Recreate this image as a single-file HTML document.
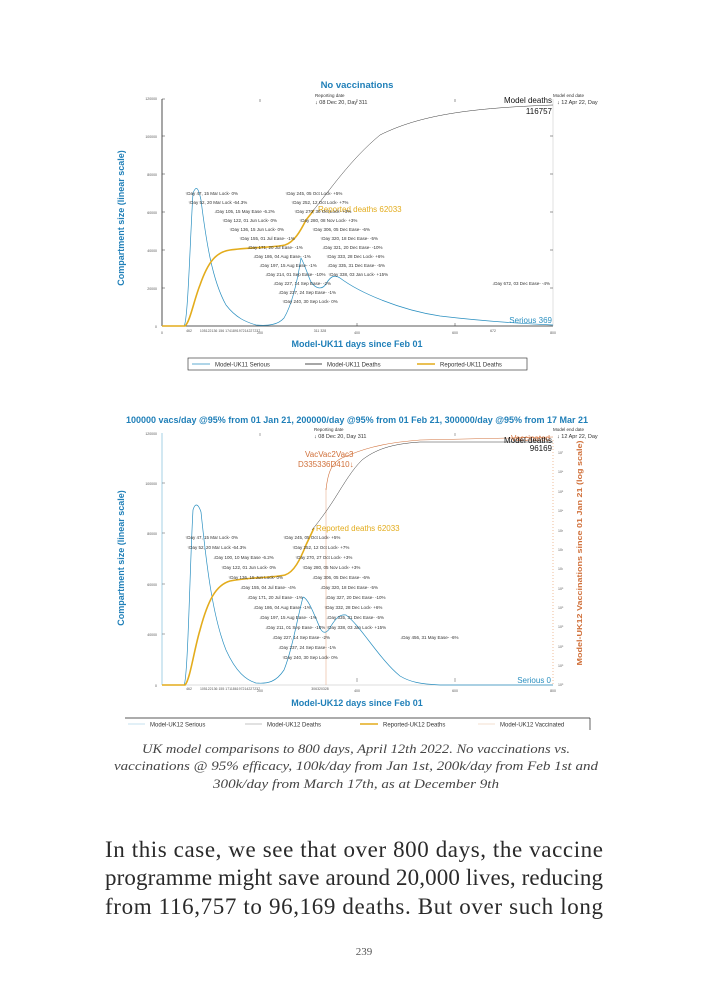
<!DOCTYPE html>
<html><head><meta charset="utf-8"><style>
html,body{margin:0;padding:0;background:#fff;width:709px;height:992px;overflow:hidden}
svg{display:block}
.a{font:4.5px "Liberation Sans",sans-serif;fill:#333}
.tk{font:3.5px "Liberation Sans",sans-serif;fill:#555}
</style></head><body>
<svg width="709" height="992" viewBox="0 0 709 992" xmlns="http://www.w3.org/2000/svg">
<!-- ========== Chart 1 ========== -->
<text x="357" y="88" text-anchor="middle" font-family="Liberation Sans" font-weight="bold" font-size="9.5" fill="#1f7fb8">No vaccinations</text>
<text x="315" y="97" class="a">Reporting date</text>
<text x="315" y="104" font-family="Liberation Sans" font-size="5.5" fill="#333">↓ 08 Dec 20, Day 311</text>
<text x="553" y="97" font-family="Liberation Sans" font-size="4.5" fill="#333">Model end date</text>
<text x="557" y="104" font-family="Liberation Sans" font-size="5.5" fill="#333">↓ 12 Apr 22, Day</text>
<g stroke="#222" stroke-width="0.8" fill="none">
<line x1="162" y1="99" x2="162" y2="326"/>
<line x1="162" y1="326" x2="553" y2="326"/>
</g>
<line x1="553" y1="99" x2="553" y2="326" stroke="#ccc" stroke-width="0.6"/>
<g stroke="#333" stroke-width="0.5">
<line x1="162" y1="99" x2="165" y2="99"/><line x1="162" y1="136" x2="165" y2="136"/><line x1="162" y1="174" x2="165" y2="174"/><line x1="162" y1="212" x2="165" y2="212"/><line x1="162" y1="250" x2="165" y2="250"/><line x1="162" y1="288" x2="165" y2="288"/>
<line x1="550" y1="136" x2="553" y2="136"/><line x1="550" y1="174" x2="553" y2="174"/><line x1="550" y1="212" x2="553" y2="212"/><line x1="550" y1="250" x2="553" y2="250"/><line x1="550" y1="288" x2="553" y2="288"/>
<line x1="260" y1="99" x2="260" y2="102"/><line x1="357" y1="99" x2="357" y2="102"/><line x1="455" y1="99" x2="455" y2="102"/>
<line x1="455" y1="323" x2="455" y2="326"/><line x1="357" y1="323" x2="357" y2="326"/>
</g>
<g class="tk" text-anchor="end">
<text x="157" y="100">120000</text><text x="157" y="138">100000</text><text x="157" y="176">80000</text><text x="157" y="214">60000</text><text x="157" y="252">40000</text><text x="157" y="290">20000</text><text x="157" y="328">0</text>
</g>
<g class="tk" text-anchor="middle">
<text x="162" y="334">0</text><text x="189" y="332">462</text><text x="260" y="334">200</text><text x="357" y="334">400</text><text x="455" y="334">600</text><text x="493" y="332">672</text><text x="553" y="334">800</text>
<text x="230" y="332">105122136 156 174189197214227237</text><text x="320" y="332">311 328</text>
</g>
<text transform="translate(124,218) rotate(-90)" text-anchor="middle" font-family="Liberation Sans" font-weight="bold" font-size="9" fill="#1f7fb8">Compartment size (linear scale)</text>
<text x="357" y="347" text-anchor="middle" font-family="Liberation Sans" font-weight="bold" font-size="9" fill="#1f7fb8">Model-UK11 days since Feb 01</text>
<path d="M162,326 L184,326 C188,322 190,240 193,193 C196,186 198,186 201,200 C206,240 212,280 226,305 C236,318 246,322 256,325 C268,326 278,325 284,318 C290,308 296,290 301,258 C305,265 308,276 311,282 C316,289 322,290 326,284 C330,277 334,274 340,278 C360,293 400,310 440,316 C490,322 530,324 553,325" fill="none" stroke="#2a8fc0" stroke-width="0.7"/>
<path d="M162,326 L185,326 C190,322 194,300 200,285 C208,262 216,252 230,250 C250,247 272,248 285,245 C294,242 300,232 306,220 L314,210" fill="none" stroke="#e3ac1c" stroke-width="1.6"/>
<path d="M312,212 C330,190 350,160 380,135 C420,115 470,108 553,105" fill="none" stroke="#222" stroke-width="0.45"/>
<text x="318" y="212" font-family="Liberation Sans" font-size="8" fill="#e3ac1c">Reported deaths 62033</text>
<text x="552" y="103" text-anchor="end" font-family="Liberation Sans" font-size="8" fill="#111">Model deaths</text>
<text x="552" y="114" text-anchor="end" font-family="Liberation Sans" font-size="8" fill="#111">116757</text>
<text x="552" y="323" text-anchor="end" font-family="Liberation Sans" font-size="8" fill="#2a8fc0">Serious 369</text>
<g class="a">
<text x="185" y="195">↑Day 47, 15 Mar Lock- 0%</text><text x="188" y="204">↑Day 52, 20 Mar Lock -64.3%</text>
<text x="214" y="213">↓Day 105, 15 May Ease -6.2%</text><text x="222" y="222">↑Day 122, 01 Jun Lock- 0%</text>
<text x="229" y="231">↑Day 136, 15 Jun Lock- 0%</text><text x="239" y="240">↑Day 155, 01 Jul Ease- -1%</text>
<text x="247" y="249">↓Day 171, 20 Jul Ease- -1%</text><text x="253" y="258">↓Day 186, 04 Aug Ease- -1%</text>
<text x="259" y="267">↓Day 197, 15 Aug Ease- -1%</text><text x="265" y="276">↓Day 214, 01 Sep Ease- -10%</text>
<text x="273" y="285">↓Day 227, 14 Sep Ease- -2%</text><text x="278" y="294">↓Day 237, 24 Sep Ease- -1%</text>
<text x="282" y="303">↑Day 240, 30 Sep Lock- 0%</text>
<text x="285" y="195">↑Day 245, 05 Oct Lock- +5%</text><text x="291" y="204">↑Day 252, 12 Oct Lock- +7%</text>
<text x="294" y="213">↑Day 270, 30 Oct Lock- +3%</text><text x="299" y="222">↑Day 280, 08 Nov Lock- +3%</text>
<text x="312" y="231">↑Day 306, 05 Dec Ease- -6%</text><text x="320" y="240">↑Day 320, 18 Dec Ease- -5%</text>
<text x="322" y="249">↓Day 321, 20 Dec Ease- -10%</text><text x="326" y="258">↑Day 333, 28 Dec Lock- +6%</text>
<text x="327" y="267">↓Day 335, 31 Dec Ease- -5%</text><text x="328" y="276">↑Day 338, 03 Jan Lock- +15%</text>
<text x="492" y="285">↓Day 672, 03 Dec Ease- -4%</text>
</g>
<rect x="188" y="358" width="339" height="12" fill="#fff" stroke="#222" stroke-width="0.6"/>
<line x1="192" y1="364" x2="210" y2="364" stroke="#2a8fc0" stroke-width="0.7"/>
<text x="215" y="366.5" font-family="Liberation Sans" font-size="6" fill="#333">Model-UK11 Serious</text>
<line x1="305" y1="364" x2="322" y2="364" stroke="#111" stroke-width="0.7"/>
<text x="327" y="366.5" font-family="Liberation Sans" font-size="6" fill="#333">Model-UK11 Deaths</text>
<line x1="417" y1="364" x2="435" y2="364" stroke="#e3ac1c" stroke-width="1.6"/>
<text x="440" y="366.5" font-family="Liberation Sans" font-size="6" fill="#333">Reported-UK11 Deaths</text>

<!-- ========== Chart 2 ========== -->
<text x="357" y="423" text-anchor="middle" font-family="Liberation Sans" font-weight="bold" font-size="9" fill="#1f7fb8">100000 vacs/day @95% from 01 Jan 21, 200000/day @95% from 01 Feb 21, 300000/day @95% from 17 Mar 21</text>
<text x="314" y="431" class="a">Reporting date</text>
<text x="314" y="438" font-family="Liberation Sans" font-size="5.5" fill="#333">↓ 08 Dec 20, Day 311</text>
<text x="553" y="431" class="a">Model end date</text>
<text x="557" y="438" font-family="Liberation Sans" font-size="5.5" fill="#333">↓ 12 Apr 22, Day</text>
<g stroke="#8ec6e0" stroke-width="0.8"><line x1="162" y1="433" x2="162" y2="685"/></g>
<line x1="162" y1="685" x2="553" y2="685" stroke="#bbb" stroke-width="0.6"/>
<line x1="553" y1="440" x2="553" y2="685" stroke="#e8a070" stroke-width="0.7" stroke-dasharray="1 2"/>
<g stroke="#555" stroke-width="0.5">
<line x1="162" y1="483" x2="165" y2="483"/><line x1="162" y1="533" x2="165" y2="533"/><line x1="162" y1="584" x2="165" y2="584"/><line x1="162" y1="634" x2="165" y2="634"/>
<line x1="260" y1="433" x2="260" y2="436"/><line x1="455" y1="433" x2="455" y2="436"/>
<line x1="357" y1="682" x2="357" y2="678"/><line x1="455" y1="682" x2="455" y2="678"/>
</g>
<g class="tk" text-anchor="end">
<text x="157" y="435">120000</text><text x="157" y="485">100000</text><text x="157" y="535">80000</text><text x="157" y="586">60000</text><text x="157" y="636">40000</text><text x="157" y="687">0</text>
</g>
<g class="tk" fill="#c87850">
<text x="558" y="454">10⁷</text><text x="558" y="473">10⁶</text><text x="558" y="493">10⁵</text><text x="558" y="512">10⁴</text><text x="558" y="532">10³</text><text x="558" y="551">10²</text><text x="558" y="570">10¹</text><text x="558" y="590">10⁰</text><text x="558" y="609">10⁰</text><text x="558" y="628">10⁰</text><text x="558" y="648">10⁰</text><text x="558" y="667">10⁰</text><text x="558" y="686">10⁰</text>
</g>
<g class="tk" text-anchor="middle">
<text x="189" y="690">462</text><text x="260" y="692">200</text><text x="357" y="692">400</text><text x="455" y="692">600</text><text x="553" y="692">800</text>
<text x="230" y="690">105122136 155 171186197214227237</text><text x="320" y="690">306320328</text>
</g>
<text transform="translate(124,558) rotate(-90)" text-anchor="middle" font-family="Liberation Sans" font-weight="bold" font-size="9" fill="#1f7fb8">Compartment size (linear scale)</text>
<text transform="translate(582,553) rotate(-90)" text-anchor="middle" font-family="Liberation Sans" font-weight="bold" font-size="7.5" fill="#d0703a" textLength="225" lengthAdjust="spacingAndGlyphs">Model-UK12 Vaccinations since 01 Jan 21 (log scale)</text>
<text x="357" y="706" text-anchor="middle" font-family="Liberation Sans" font-weight="bold" font-size="9" fill="#1f7fb8">Model-UK12 days since Feb 01</text>
<line x1="326" y1="488" x2="326" y2="685" stroke="#e8b090" stroke-width="0.6"/>
<path d="M162,685 L184,685 C188,680 190,560 193,510 C195,503 198,503 201,512 C206,560 212,615 226,650 C236,672 246,680 256,683 C268,684 276,682 284,670 C292,650 297,620 303,597 C308,598 314,614 320,628 C323,634 327,634 331,626 C336,618 340,614 346,615 C360,625 380,660 400,676 C410,682 420,684 440,685 L553,685" fill="none" stroke="#2a8fc0" stroke-width="0.7"/>
<path d="M162,685 L185,685 C190,680 194,650 200,630 C208,600 216,585 230,581 C250,577 272,578 285,575 C294,572 300,560 306,545 L314,528" fill="none" stroke="#e3ac1c" stroke-width="1.6"/>
<path d="M312,530 C320,520 326,512 335,498 C345,482 352,470 362,460 C375,450 390,444 420,442 L553,442" fill="none" stroke="#222" stroke-width="0.45"/>
<path d="M326,490 C328,470 333,462 342,458 C360,450 380,443 420,440 L553,437" fill="none" stroke="#d0703a" stroke-width="0.6"/>
<text x="316" y="531" font-family="Liberation Sans" font-size="8" fill="#e3ac1c">Reported deaths 62033</text>
<text x="305" y="457" font-family="Liberation Sans" font-size="8" fill="#d0703a">VacVac2Vac3</text>
<text x="298" y="467" font-family="Liberation Sans" font-size="8" fill="#d0703a">D335336D410↓</text>
<text x="550" y="441" text-anchor="end" font-family="Liberation Sans" font-size="8" fill="#d0703a">Vaccinated</text>
<text x="552" y="443" text-anchor="end" font-family="Liberation Sans" font-size="8" fill="#111">Model deaths</text>
<text x="552" y="451" text-anchor="end" font-family="Liberation Sans" font-size="8" fill="#111">96169</text>
<text x="551" y="683" text-anchor="end" font-family="Liberation Sans" font-size="8" fill="#2a8fc0">Serious 0</text>
<g class="a">
<text x="185" y="539">↑Day 47, 15 Mar Lock- 0%</text><text x="187" y="549">↑Day 52, 20 Mar Lock -64.3%</text>
<text x="213" y="559">↓Day 100, 10 May Ease -6.2%</text><text x="221" y="569">↑Day 122, 01 Jun Lock- 0%</text>
<text x="228" y="579">↑Day 136, 15 Jun Lock- 0%</text><text x="240" y="589">↓Day 155, 04 Jul Ease- -4%</text>
<text x="247" y="599">↓Day 171, 20 Jul Ease- -1%</text><text x="253" y="609">↓Day 186, 04 Aug Ease- -1%</text>
<text x="259" y="619">↓Day 197, 15 Aug Ease- -1%</text><text x="265" y="629">↓Day 211, 01 Sep Ease- -10%</text>
<text x="272" y="639">↓Day 227, 14 Sep Ease- -2%</text><text x="278" y="649">↓Day 237, 24 Sep Ease- -1%</text>
<text x="282" y="659">↑Day 240, 30 Sep Lock- 0%</text>
<text x="283" y="539">↑Day 245, 05 Oct Lock- +5%</text><text x="292" y="549">↑Day 252, 12 Oct Lock- +7%</text>
<text x="295" y="559">↑Day 270, 27 Oct Lock- +3%</text><text x="302" y="569">↑Day 280, 05 Nov Lock- +3%</text>
<text x="312" y="579">↓Day 306, 05 Dec Ease- -6%</text><text x="320" y="589">↓Day 320, 18 Dec Ease- -5%</text>
<text x="325" y="599">↓Day 327, 20 Dec Ease- -10%</text><text x="324" y="609">↑Day 332, 28 Dec Lock- +6%</text>
<text x="326" y="619">↓Day 335, 31 Dec Ease- -5%</text><text x="326" y="629">↑Day 338, 03 Jan Lock- +15%</text>
<text x="400" y="639">↓Day 456, 31 May Ease- -6%</text>
</g>
<line x1="125" y1="718" x2="590" y2="718" stroke="#222" stroke-width="0.7"/>
<line x1="590" y1="718" x2="590" y2="730" stroke="#222" stroke-width="0.7"/>
<line x1="128" y1="724" x2="145" y2="724" stroke="#8ec6e0" stroke-width="0.6"/>
<text x="150" y="726.5" font-family="Liberation Sans" font-size="6" fill="#333">Model-UK12 Serious</text>
<line x1="245" y1="724" x2="262" y2="724" stroke="#888" stroke-width="0.6"/>
<text x="267" y="726.5" font-family="Liberation Sans" font-size="6" fill="#333">Model-UK12 Deaths</text>
<line x1="360" y1="724" x2="378" y2="724" stroke="#e3ac1c" stroke-width="1.6"/>
<text x="383" y="726.5" font-family="Liberation Sans" font-size="6" fill="#333">Reported-UK12 Deaths</text>
<line x1="478" y1="724" x2="495" y2="724" stroke="#e8c0a0" stroke-width="0.6"/>
<text x="500" y="726.5" font-family="Liberation Sans" font-size="6" fill="#333">Model-UK12 Vaccinated</text>

<g font-family="Liberation Serif" font-style="italic" font-size="13" fill="#444" text-anchor="middle">
<text x="356" y="753" textLength="428" lengthAdjust="spacingAndGlyphs">UK model comparisons to 800 days, April 12th 2022. No vaccinations vs.</text>
<text x="356" y="770" textLength="484" lengthAdjust="spacingAndGlyphs">vaccinations @ 95% efficacy, 100k/day from Jan 1st, 200k/day from Feb 1st and</text>
<text x="356" y="788" textLength="286" lengthAdjust="spacingAndGlyphs">300k/day from March 17th, as at December 9th</text>
</g>
<g font-family="Liberation Serif" font-size="23" fill="#2a2a2a">
<text x="105" y="857" textLength="498" lengthAdjust="spacing">In this case, we see that over 800 days, the vaccine</text>
<text x="105" y="885" textLength="498" lengthAdjust="spacing">programme might save around 20,000 lives, reducing</text>
<text x="105" y="914" textLength="498" lengthAdjust="spacing">from 116,757 to 96,169 deaths. But over such long</text>
</g>
<text x="364" y="955" text-anchor="middle" font-family="Liberation Serif" font-size="11" fill="#555">239</text>
</svg>
</body></html>
